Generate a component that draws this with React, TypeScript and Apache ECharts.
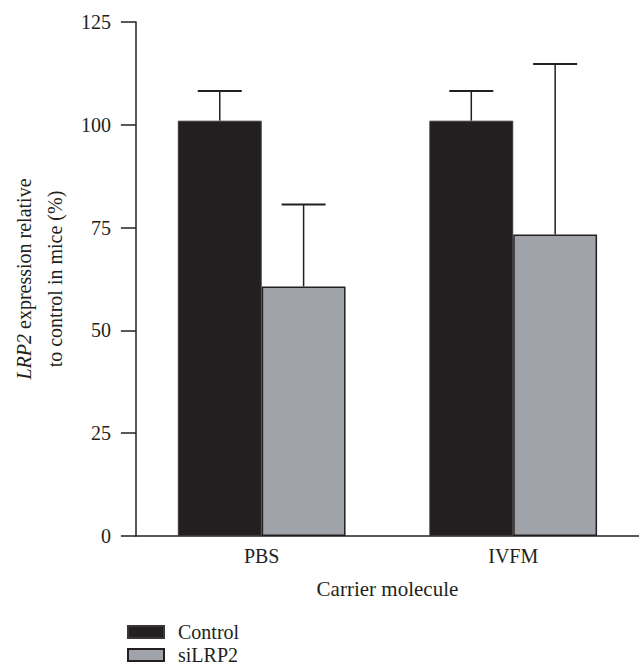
import React, { useEffect, useRef } from "react";
import * as echarts from "echarts";

const categories = ["PBS", "IVFM"];
const controlValues = [101, 101];
const controlErrTop = [108.2, 108.2];
const siValues = [60.7, 73.3];
const siErrTop = [80.6, 114.8];
const yTicks = [0, 25, 50, 75, 100, 125];

const FONT = "'Liberation Serif', 'DejaVu Serif', serif";
const INK = "#231f20";
const GRAY = "#a0a3aa";
const GAP = 0.3333;

const legendBase = {
  orient: "horizontal",
  left: 127,
  padding: 0,
  itemWidth: 36,
  itemHeight: 12,
  icon: "rect",
  textStyle: { fontFamily: FONT, fontSize: 20, color: INK, lineHeight: 20, padding: [0, 0, 0, 9] },
};

export default function App() {
  const ref = useRef<HTMLDivElement>(null);
  useEffect(() => {
    if (!ref.current) return;
    const chart = echarts.init(ref.current, null, { renderer: "svg" });
    const errData = [
      ...categories.map((_, i) => [i, controlValues[i], controlErrTop[i], -1]),
      ...categories.map((_, i) => [i, siValues[i], siErrTop[i], 1]),
    ];
    chart.setOption({
      animation: false,
      backgroundColor: "#ffffff",
      textStyle: { fontFamily: FONT, color: INK },
      grid: { left: 128, top: 22, width: 516, height: 514 },
      legend: [
        { ...legendBase, top: 622, data: ["Control"] },
        { ...legendBase, top: 645, data: ["siLRP2"] },
      ],
      xAxis: {
        type: "category",
        data: categories,
        name: "Carrier molecule",
        nameLocation: "middle",
        nameGap: 42,
        nameTextStyle: { fontFamily: FONT, fontSize: 21, color: INK },
        axisLine: { lineStyle: { color: INK, width: 1.5 } },
        axisTick: { show: false },
        axisLabel: { fontFamily: FONT, fontSize: 20, color: INK, margin: 10 },
      },
      yAxis: {
        type: "value",
        min: yTicks[0],
        max: yTicks[yTicks.length - 1],
        interval: 25,
        name: "{i|LRP2} expression relative\nto control in mice (%)",
        nameLocation: "middle",
        nameRotate: 90,
        nameGap: 60,
        nameTextStyle: {
          fontFamily: FONT,
          fontSize: 20,
          color: INK,
          lineHeight: 31,
          rich: { i: { fontFamily: FONT, fontSize: 20, fontStyle: "italic", color: INK, lineHeight: 31 } },
        },
        splitLine: { show: false },
        axisLine: { show: true, lineStyle: { color: INK, width: 1.5 } },
        axisTick: { show: true, length: 15, lineStyle: { color: INK, width: 1.5 } },
        axisLabel: { fontFamily: FONT, fontSize: 20, color: INK, margin: 25 },
      },
      series: [
        {
          name: "Control",
          type: "bar",
          data: controlValues,
          barGap: "0%",
          barCategoryGap: "33.33%",
          itemStyle: { color: INK, borderColor: "#3a3637", borderWidth: 1 },
        },
        {
          name: "siLRP2",
          type: "bar",
          data: siValues,
          barGap: "0%",
          barCategoryGap: "33.33%",
          itemStyle: { color: GRAY, borderColor: INK, borderWidth: 1.5 },
        },
        {
          name: "err",
          type: "custom",
          z: 5,
          data: errData,
          encode: { x: 0, y: [1, 2] },
          renderItem: (params: any, api: any) => {
            const cat = api.value(0);
            const v = api.value(1);
            const e = api.value(2);
            const side = api.value(3);
            const base = api.coord([cat, v]);
            const top = api.coord([cat, e]);
            const band = api.size([1, 0])[0];
            const barW = (band * (1 - GAP)) / 2;
            const x = base[0] + (side * barW) / 2;
            return {
              type: "group",
              children: [
                { type: "line", shape: { x1: x, y1: base[1], x2: x, y2: top[1] }, style: { stroke: INK, lineWidth: 1.5 } },
                { type: "line", shape: { x1: x - 22, y1: top[1], x2: x + 22, y2: top[1] }, style: { stroke: INK, lineWidth: 2 } },
              ],
            };
          },
        },
      ],
    });
    return () => chart.dispose();
  }, []);
  return <div ref={ref} style={{ position: "absolute", left: 0, top: 0, width: 639, height: 666 }} />;
}
